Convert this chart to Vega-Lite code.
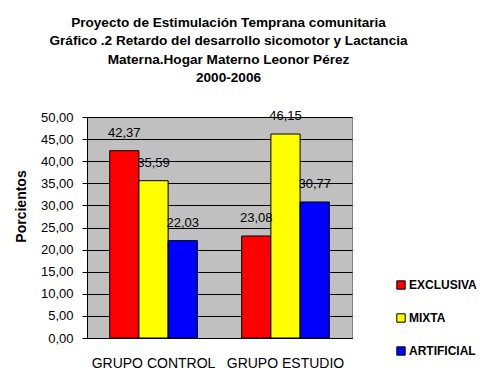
{
  "$schema": "https://vega.github.io/schema/vega-lite/v6.json",
  "width": 265,
  "height": 221,
  "autosize": {"type": "none"},
  "padding": {"left": 87, "top": 117, "right": 135, "bottom": 43},
  "background": "white",
  "config": {
    "locale": {"number": {"decimal": ",", "thousands": ".", "grouping": [3], "currency": ["", ""]}},
    "font": "Liberation Sans",
    "view": {"fill": "#C0C0C0", "stroke": "#808080", "strokeWidth": 1}
  },
  "title": {
    "text": ["Proyecto de Estimulación Temprana comunitaria", "Gráfico .2 Retardo del desarrollo sicomotor  y Lactancia", "Materna.Hogar Materno Leonor Pérez", "2000-2006"],
    "font": "Liberation Sans",
    "fontSize": 13.6,
    "fontWeight": "bold",
    "color": "black",
    "anchor": "middle",
    "frame": "group",
    "dx": 9,
    "offset": 25,
    "lineHeight": 18.5
  },
  "data": {
    "values": [
      {"grupo": "GRUPO CONTROL", "tipo": "EXCLUSIVA", "valor": 42.37},
      {"grupo": "GRUPO CONTROL", "tipo": "MIXTA", "valor": 35.59},
      {"grupo": "GRUPO CONTROL", "tipo": "ARTIFICIAL", "valor": 22.03},
      {"grupo": "GRUPO ESTUDIO", "tipo": "EXCLUSIVA", "valor": 23.08},
      {"grupo": "GRUPO ESTUDIO", "tipo": "MIXTA", "valor": 46.15},
      {"grupo": "GRUPO ESTUDIO", "tipo": "ARTIFICIAL", "valor": 30.77}
    ]
  },
  "encoding": {
    "x": {
      "field": "grupo", "type": "nominal",
      "scale": {"paddingInner": 0.336, "paddingOuter": 0.172},
      "axis": {
        "title": null, "labelAngle": 0, "labelFontSize": 14, "labelColor": "black",
        "labelPadding": 18, "ticks": false, "domainColor": "black", "domainWidth": 1
      }
    },
    "xOffset": {"field": "tipo", "type": "nominal", "sort": ["EXCLUSIVA", "MIXTA", "ARTIFICIAL"], "scale": {"paddingInner": 0, "paddingOuter": 0}},
    "y": {
      "field": "valor", "type": "quantitative",
      "scale": {"domain": [0, 50], "nice": false},
      "axis": {
        "title": "Porcientos", "titleFontSize": 14, "titleFontWeight": "bold", "titleColor": "black",
        "titlePadding": 12, "titleY": 89,
        "values": [0, 5, 10, 15, 20, 25, 30, 35, 40, 45, 50],
        "format": ".2f", "labelFontSize": 13, "labelColor": "black", "labelPadding": 9,
        "tickColor": "black", "tickSize": 5, "domainColor": "black",
        "grid": true, "gridColor": "black", "gridWidth": 1, "gridOpacity": 1
      }
    }
  },
  "layer": [
    {
      "mark": {"type": "bar", "stroke": "black", "strokeWidth": 1},
      "encoding": {
        "color": {
          "field": "tipo", "type": "nominal",
          "sort": ["EXCLUSIVA", "MIXTA", "ARTIFICIAL"],
          "scale": {"domain": ["EXCLUSIVA", "MIXTA", "ARTIFICIAL"], "range": ["#FF0000", "#FFFF00", "#0000FF"]},
          "legend": {
            "title": null, "orient": "none", "legendX": 308, "legendY": 162,
            "symbolType": "square", "symbolSize": 70, "symbolStrokeColor": "black", "symbolStrokeWidth": 1,
            "symbolOpacity": 1, "labelFontSize": 12, "labelFontWeight": "bold", "labelColor": "black",
            "labelOffset": 2, "rowPadding": 19
          }
        }
      }
    },
    {
      "mark": {"type": "text", "baseline": "bottom", "dy": -11, "fontSize": 13, "color": "black"},
      "encoding": {
        "text": {"field": "valor", "type": "quantitative", "format": ".2f"}
      }
    }
  ]
}
